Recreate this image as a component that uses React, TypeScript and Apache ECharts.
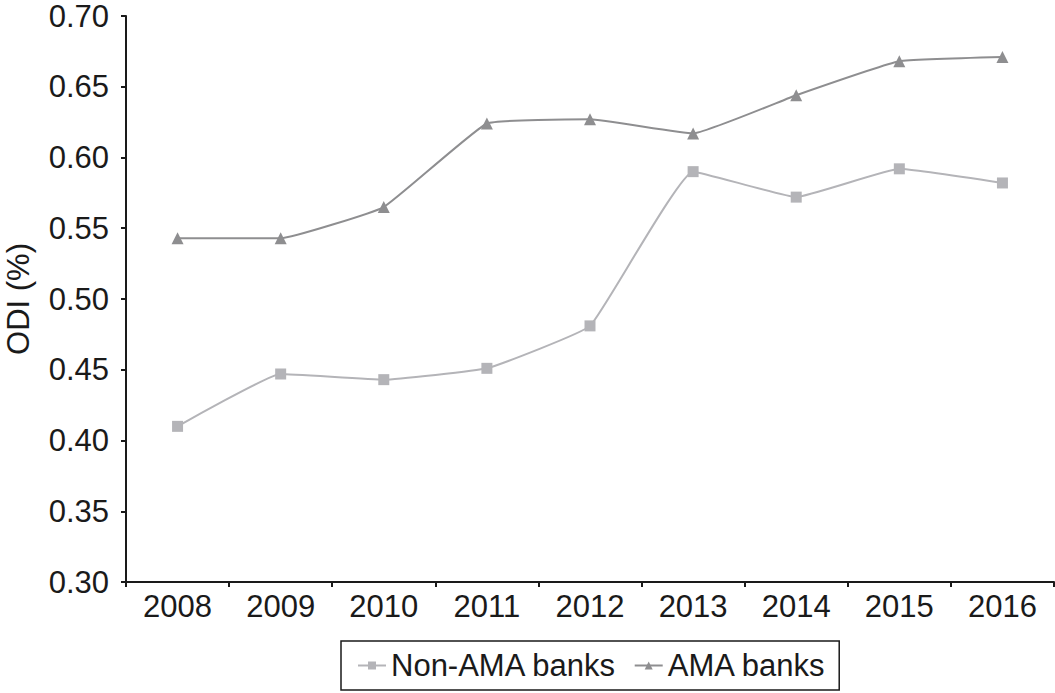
import React, { useEffect, useRef } from "react";
import * as echarts from "echarts";

const years = ["2008", "2009", "2010", "2011", "2012", "2013", "2014", "2015", "2016"];
const nonAma = [0.41, 0.447, 0.443, 0.451, 0.481, 0.59, 0.572, 0.592, 0.582];
const ama = [0.543, 0.543, 0.565, 0.624, 0.627, 0.617, 0.644, 0.668, 0.671];

const FONT = "'Liberation Sans', Arial, Helvetica, sans-serif";
const FS = 31;

export default function App() {
  const ref = useRef<HTMLDivElement>(null);
  useEffect(() => {
    if (!ref.current) return;
    const chart = echarts.init(ref.current, null, { renderer: "svg" });
    chart.setOption({
      animation: false,
      backgroundColor: "#ffffff",
      textStyle: { fontFamily: FONT, color: "#1a1a1a" },
      grid: { left: 126, right: 1, top: 16, bottom: 111, containLabel: false, outerBoundsMode: "none" },
      legend: {
        left: 341,
        top: 641,
        padding: [9, 13, 9, 16],
        borderColor: "#1a1a1a",
        borderWidth: 1.5,
        itemWidth: 28,
        itemHeight: 10,
        itemGap: 17,
        textStyle: { fontFamily: FONT, fontSize: FS, color: "#1a1a1a" },
        data: ["Non-AMA banks", "AMA banks"],
      },
      xAxis: {
        type: "category",
        data: years,
        boundaryGap: true,
        axisLine: { lineStyle: { color: "#1a1a1a", width: 2 } },
        axisTick: { show: true, length: 5, alignWithLabel: false, lineStyle: { color: "#1a1a1a", width: 2 } },
        axisLabel: { fontFamily: FONT, fontSize: FS, color: "#1a1a1a", margin: 9 },
        splitLine: { show: false },
      },
      yAxis: {
        type: "value",
        min: 0.3,
        max: 0.7,
        interval: 0.05,
        name: "ODI (%)",
        nameLocation: "middle",
        nameGap: 92,
        nameTextStyle: { fontFamily: FONT, fontSize: FS, color: "#1a1a1a" },
        axisLine: { show: true, lineStyle: { color: "#1a1a1a", width: 2 } },
        axisTick: { show: true, length: 5, lineStyle: { color: "#1a1a1a", width: 2 } },
        axisLabel: {
          fontFamily: FONT,
          fontSize: FS,
          color: "#1a1a1a",
          margin: 17,
          formatter: (v: number) => v.toFixed(2),
        },
        splitLine: { show: false },
      },
      series: [
        {
          name: "Non-AMA banks",
          type: "line",
          data: nonAma,
          smooth: 0.1,
          symbol: "rect",
          symbolSize: 11,
          itemStyle: { color: "#b4b4b8" },
          lineStyle: { color: "#b4b4b8", width: 2 },
        },
        {
          name: "AMA banks",
          type: "line",
          data: ama,
          smooth: 0.1,
          symbol: "triangle",
          symbolSize: 12,
          itemStyle: { color: "#8e8e90" },
          lineStyle: { color: "#8e8e90", width: 2 },
        },
      ],
    });
    return () => chart.dispose();
  }, []);
  return <div ref={ref} style={{ width: 1055, height: 693, position: "absolute", left: 0, top: 0 }} />;
}
